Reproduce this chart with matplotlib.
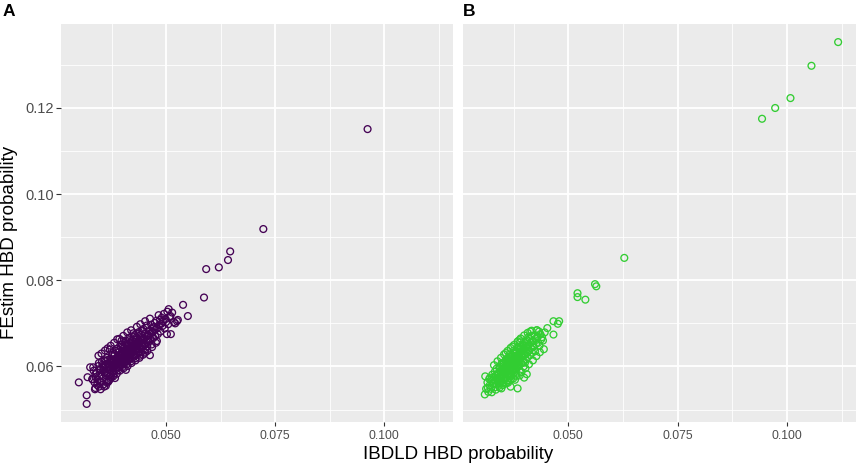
import matplotlib
matplotlib.use('Agg')
import matplotlib.pyplot as plt
from matplotlib.ticker import MultipleLocator, FormatStrFormatter

plt.rcParams.update({'font.family': ['Liberation Sans', 'DejaVu Sans']})

# panel A: IBDLD vs FEstim HBD probability (purple), one line per x bin
ibdld_a = [
    0.0331, 0.0334, 0.0336, 0.0338, 0.0333, 0.0339,
    0.0341, 0.0343, 0.0345, 0.0347, 0.0349, 0.0342, 0.0346, 0.0348,
    0.0350, 0.0352, 0.0353, 0.0355, 0.0356, 0.0358, 0.0351, 0.0354, 0.0357, 0.0359,
    0.0360, 0.0361, 0.0362, 0.0363, 0.0364, 0.0365, 0.0366, 0.0367, 0.0368, 0.0369, 0.0362, 0.0366,
    0.0370, 0.0371, 0.0372, 0.0373, 0.0374, 0.0375, 0.0376, 0.0377, 0.0378, 0.0379, 0.0371, 0.0374, 0.0376, 0.0378,
    0.0380, 0.0381, 0.0382, 0.0383, 0.0384, 0.0385, 0.0386, 0.0387, 0.0388, 0.0389, 0.0380, 0.0382, 0.0384, 0.0386, 0.0388, 0.0385,
    0.0390, 0.0391, 0.0392, 0.0393, 0.0394, 0.0395, 0.0396, 0.0397, 0.0398, 0.0399, 0.0390, 0.0392, 0.0394, 0.0396, 0.0398, 0.0391, 0.0395, 0.0399,
    0.0400, 0.0401, 0.0402, 0.0403, 0.0404, 0.0405, 0.0406, 0.0407, 0.0408, 0.0409, 0.0400, 0.0401, 0.0403, 0.0404, 0.0405, 0.0406, 0.0407, 0.0408, 0.0402, 0.0409,
    0.0410, 0.0411, 0.0412, 0.0413, 0.0414, 0.0415, 0.0416, 0.0417, 0.0418, 0.0419, 0.0410, 0.0411, 0.0412, 0.0413, 0.0414, 0.0415, 0.0416, 0.0417, 0.0418, 0.0419,
    0.0420, 0.0421, 0.0422, 0.0423, 0.0424, 0.0425, 0.0426, 0.0427, 0.0428, 0.0429, 0.0420, 0.0422, 0.0424, 0.0426, 0.0428, 0.0421, 0.0425, 0.0429,
    0.0430, 0.0431, 0.0432, 0.0433, 0.0434, 0.0435, 0.0436, 0.0437, 0.0438, 0.0439, 0.0430, 0.0432, 0.0434, 0.0436, 0.0438, 0.0435,
    0.0440, 0.0441, 0.0442, 0.0443, 0.0444, 0.0445, 0.0446, 0.0447, 0.0448, 0.0449, 0.0441, 0.0443, 0.0446, 0.0448,
    0.0450, 0.0451, 0.0452, 0.0453, 0.0454, 0.0455, 0.0456, 0.0457, 0.0458, 0.0459, 0.0452, 0.0456,
    0.0460, 0.0461, 0.0462, 0.0463, 0.0464, 0.0465, 0.0466, 0.0467, 0.0468, 0.0469,
    0.0470, 0.0471, 0.0473, 0.0474, 0.0475, 0.0476, 0.0478, 0.0479,
    0.0480, 0.0481, 0.0483, 0.0484, 0.0486, 0.0487, 0.0489,
    0.0490, 0.0492, 0.0493, 0.0495, 0.0497, 0.0499,
    0.0500, 0.0502, 0.0503, 0.0505, 0.0506, 0.0508, 0.0510, 0.0511, 0.0514,
    # upper and lower edge of the band
    0.0345, 0.0352, 0.0360, 0.0366, 0.0373, 0.0381, 0.0393, 0.0402, 0.0411, 0.0420, 0.0433, 0.0441,
    0.0452, 0.0463, 0.0371, 0.0398, 0.0425,
    0.0338, 0.0346, 0.0356, 0.0364, 0.0372, 0.0379, 0.0387, 0.0394, 0.0403, 0.0412, 0.0421, 0.0430,
    0.0439, 0.0447, 0.0457, 0.0468, 0.0477, 0.0383, 0.0408,
    # outliers
    0.0518, 0.0521, 0.0525, 0.0527, 0.0539, 0.0550, 0.0587, 0.0592, 0.0621, 0.0642, 0.0647, 0.0723, 0.0962, 0.0388,
    0.0300, 0.0318, 0.0318, 0.0326, 0.0320, 0.0331, 0.0337, 0.0350, 0.0358, 0.0365, 0.0362, 0.0368, 0.0375,
]
festim_a = [
    0.0571, 0.0590, 0.0563, 0.0582, 0.0598, 0.0575,
    0.0586, 0.0569, 0.0601, 0.0578, 0.0592, 0.0557, 0.0608, 0.0565,
    0.0594, 0.0580, 0.0611, 0.0572, 0.0599, 0.0586, 0.0563, 0.0604, 0.0591, 0.0614,
    0.0601, 0.0588, 0.0612, 0.0579, 0.0596, 0.0620, 0.0584, 0.0607, 0.0593, 0.0568, 0.0603, 0.0615,
    0.0606, 0.0594, 0.0618, 0.0583, 0.0611, 0.0600, 0.0627, 0.0589, 0.0609, 0.0597, 0.0576, 0.0615, 0.0604, 0.0631,
    0.0614, 0.0602, 0.0625, 0.0591, 0.0618, 0.0608, 0.0636, 0.0597, 0.0621, 0.0610, 0.0583, 0.0629, 0.0605, 0.0616, 0.0641, 0.0612,
    0.0622, 0.0609, 0.0633, 0.0598, 0.0626, 0.0615, 0.0645, 0.0604, 0.0629, 0.0618, 0.0591, 0.0638, 0.0612, 0.0624, 0.0651, 0.0617, 0.0603, 0.0635,
    0.0630, 0.0617, 0.0641, 0.0606, 0.0634, 0.0622, 0.0654, 0.0612, 0.0637, 0.0626, 0.0598, 0.0646, 0.0620, 0.0644, 0.0633, 0.0609, 0.0660, 0.0626, 0.0615, 0.0649,
    0.0637, 0.0624, 0.0648, 0.0613, 0.0641, 0.0629, 0.0661, 0.0619, 0.0644, 0.0633, 0.0605, 0.0653, 0.0627, 0.0651, 0.0640, 0.0616, 0.0667, 0.0632, 0.0622, 0.0656,
    0.0644, 0.0631, 0.0655, 0.0620, 0.0648, 0.0636, 0.0668, 0.0626, 0.0651, 0.0640, 0.0612, 0.0660, 0.0634, 0.0646, 0.0673, 0.0639, 0.0625, 0.0657,
    0.0651, 0.0638, 0.0662, 0.0627, 0.0655, 0.0643, 0.0675, 0.0633, 0.0658, 0.0647, 0.0619, 0.0667, 0.0641, 0.0653, 0.0680, 0.0649,
    0.0657, 0.0644, 0.0668, 0.0633, 0.0661, 0.0649, 0.0682, 0.0639, 0.0664, 0.0653, 0.0625, 0.0674, 0.0647, 0.0687,
    0.0665, 0.0652, 0.0676, 0.0640, 0.0669, 0.0657, 0.0690, 0.0647, 0.0672, 0.0661, 0.0632, 0.0695,
    0.0672, 0.0658, 0.0683, 0.0626, 0.0676, 0.0663, 0.0697, 0.0651, 0.0679, 0.0689,
    0.0680, 0.0666, 0.0692, 0.0701, 0.0671, 0.0686, 0.0706, 0.0659,
    0.0689, 0.0675, 0.0719, 0.0696, 0.0708, 0.0681, 0.0699,
    0.0713, 0.0694, 0.0704, 0.0722, 0.0688, 0.0710,
    0.0703, 0.0675, 0.0727, 0.0698, 0.0733, 0.0715, 0.0717, 0.0675, 0.0725,
    0.0625, 0.0630, 0.0637, 0.0642, 0.0648, 0.0655, 0.0664, 0.0671, 0.0679, 0.0684, 0.0692, 0.0698,
    0.0705, 0.0711, 0.0639, 0.0660, 0.0677,
    0.0550, 0.0553, 0.0558, 0.0566, 0.0571, 0.0577, 0.0583, 0.0590, 0.0596, 0.0601, 0.0608, 0.0614,
    0.0620, 0.0627, 0.0636, 0.0645, 0.0655, 0.0573, 0.0592,
    0.0703, 0.0700, 0.0705, 0.0708, 0.0743, 0.0717, 0.0760, 0.0826, 0.0830, 0.0847, 0.0867, 0.0919, 0.1151, 0.0663,
    0.0563, 0.0533, 0.0513, 0.0598, 0.0575, 0.0570, 0.0547, 0.0547, 0.0553, 0.0562, 0.0555, 0.0565, 0.0575,
]

# panel B: IBDLD vs FEstim HBD probability (green), one line per x bin
ibdld_b = [
    0.0312, 0.0315, 0.0317, 0.0319,
    0.0320, 0.0321, 0.0323, 0.0324, 0.0326, 0.0327, 0.0329,
    0.0330, 0.0331, 0.0332, 0.0333, 0.0334, 0.0335, 0.0336, 0.0337, 0.0338, 0.0339,
    0.0340, 0.0341, 0.0342, 0.0343, 0.0344, 0.0345, 0.0346, 0.0347, 0.0348, 0.0349, 0.0341, 0.0344, 0.0346, 0.0348,
    0.0350, 0.0351, 0.0352, 0.0353, 0.0354, 0.0355, 0.0356, 0.0357, 0.0358, 0.0359, 0.0350, 0.0352, 0.0354, 0.0356, 0.0358, 0.0351, 0.0355, 0.0359,
    0.0360, 0.0361, 0.0362, 0.0363, 0.0364, 0.0365, 0.0366, 0.0367, 0.0368, 0.0369,
    0.0369, 0.0368, 0.0367, 0.0366, 0.0365, 0.0364, 0.0363, 0.0362, 0.0361, 0.0360, 0.0362, 0.0367,
    0.0370, 0.0371, 0.0372, 0.0373, 0.0374, 0.0375, 0.0376, 0.0377, 0.0378, 0.0379,
    0.0379, 0.0378, 0.0377, 0.0376, 0.0375, 0.0374, 0.0373, 0.0372, 0.0371, 0.0370, 0.0373, 0.0376,
    0.0380, 0.0381, 0.0382, 0.0383, 0.0384, 0.0385, 0.0386, 0.0387, 0.0388, 0.0389,
    0.0389, 0.0388, 0.0387, 0.0386, 0.0385, 0.0384, 0.0383, 0.0382, 0.0381, 0.0380,
    0.0390, 0.0391, 0.0392, 0.0393, 0.0394, 0.0395, 0.0396, 0.0397, 0.0398, 0.0399,
    0.0398, 0.0396, 0.0394, 0.0392, 0.0390, 0.0397, 0.0393, 0.0391,
    0.0400, 0.0401, 0.0402, 0.0403, 0.0404, 0.0405, 0.0406, 0.0407, 0.0408, 0.0409, 0.0401, 0.0404, 0.0406, 0.0408,
    0.0410, 0.0411, 0.0412, 0.0413, 0.0414, 0.0415, 0.0416, 0.0417, 0.0418, 0.0419,
    0.0420, 0.0421, 0.0423, 0.0424, 0.0425, 0.0426, 0.0428, 0.0429,
    0.0430, 0.0431, 0.0433, 0.0434, 0.0436, 0.0438,
    0.0440, 0.0442, 0.0444, 0.0446,
    # upper and lower edge of the band
    0.0330, 0.0338, 0.0346, 0.0353, 0.0361, 0.0368, 0.0376, 0.0384, 0.0391, 0.0399, 0.0407, 0.0416,
    0.0357, 0.0372, 0.0388,
    0.0325, 0.0334, 0.0343, 0.0351, 0.0358, 0.0366, 0.0374, 0.0381, 0.0393, 0.0402, 0.0410, 0.0419,
    0.0427, 0.0435, 0.0347, 0.0378,
    # outliers
    0.0452, 0.0466, 0.0466, 0.0476, 0.0479, 0.0521, 0.0521, 0.0539, 0.0561, 0.0564, 0.0628,
    0.0943, 0.0973, 0.1008, 0.1056, 0.1117,
    0.0309, 0.0310, 0.0316, 0.0368, 0.0384, 0.0399, 0.0405, 0.0362, 0.0389, 0.0413, 0.0428,
]
festim_b = [
    0.0548, 0.0563, 0.0541, 0.0571,
    0.0556, 0.0574, 0.0548, 0.0566, 0.0581, 0.0559, 0.0570,
    0.0575, 0.0561, 0.0588, 0.0552, 0.0579, 0.0567, 0.0595, 0.0558, 0.0583, 0.0572,
    0.0583, 0.0570, 0.0597, 0.0561, 0.0588, 0.0576, 0.0604, 0.0566, 0.0592, 0.0580, 0.0555, 0.0600, 0.0573, 0.0608,
    0.0592, 0.0579, 0.0606, 0.0569, 0.0597, 0.0585, 0.0613, 0.0575, 0.0601, 0.0589, 0.0562, 0.0609, 0.0583, 0.0595, 0.0617, 0.0587, 0.0571, 0.0603,
    0.0602, 0.0589, 0.0616, 0.0578, 0.0607, 0.0595, 0.0623, 0.0584, 0.0611, 0.0598,
    0.0571, 0.0619, 0.0593, 0.0605, 0.0627, 0.0580, 0.0600, 0.0613, 0.0587, 0.0568, 0.0609, 0.0596,
    0.0612, 0.0599, 0.0626, 0.0588, 0.0617, 0.0605, 0.0633, 0.0594, 0.0621, 0.0608,
    0.0581, 0.0629, 0.0603, 0.0615, 0.0637, 0.0590, 0.0610, 0.0623, 0.0597, 0.0578, 0.0619, 0.0606,
    0.0621, 0.0608, 0.0635, 0.0597, 0.0626, 0.0614, 0.0642, 0.0603, 0.0630, 0.0617,
    0.0590, 0.0638, 0.0612, 0.0624, 0.0646, 0.0599, 0.0619, 0.0632, 0.0606, 0.0587,
    0.0631, 0.0618, 0.0645, 0.0607, 0.0636, 0.0624, 0.0652, 0.0613, 0.0640, 0.0627,
    0.0600, 0.0648, 0.0622, 0.0634, 0.0656, 0.0609, 0.0629, 0.0642,
    0.0640, 0.0627, 0.0654, 0.0616, 0.0645, 0.0633, 0.0661, 0.0622, 0.0649, 0.0636, 0.0609, 0.0657, 0.0631, 0.0667,
    0.0650, 0.0637, 0.0664, 0.0626, 0.0655, 0.0643, 0.0671, 0.0632, 0.0659, 0.0646,
    0.0659, 0.0646, 0.0673, 0.0635, 0.0664, 0.0652, 0.0684, 0.0668,
    0.0669, 0.0655, 0.0681, 0.0648, 0.0675, 0.0663,
    0.0668, 0.0660, 0.0640, 0.0679,
    0.0603, 0.0612, 0.0620, 0.0628, 0.0636, 0.0643, 0.0650, 0.0658, 0.0665, 0.0672, 0.0678, 0.0683,
    0.0631, 0.0646, 0.0661,
    0.0540, 0.0546, 0.0551, 0.0557, 0.0561, 0.0567, 0.0572, 0.0578, 0.0587, 0.0596, 0.0605, 0.0614,
    0.0624, 0.0633, 0.0549, 0.0569,
    0.0689, 0.0674, 0.0705, 0.0699, 0.0705, 0.0770, 0.0761, 0.0755, 0.0791, 0.0786, 0.0852,
    0.1175, 0.1200, 0.1223, 0.1298, 0.1353,
    0.0535, 0.0577, 0.0550, 0.0553, 0.0549, 0.0574, 0.0582, 0.0562, 0.0579, 0.0681, 0.0684,
]

colors = ['#440154', '#32CD32']
labels = ['A', 'B']

# shared scales with ggplot-style 5% expansion
all_x = ibdld_a + ibdld_b
all_y = festim_a + festim_b
dx = (max(all_x) - min(all_x)) * 0.05
dy = (max(all_y) - min(all_y)) * 0.05
xlim = (min(all_x) - dx, max(all_x) + dx)
ylim = (min(all_y) - dy, max(all_y) + dy)

fig = plt.figure(figsize=(8.58, 4.65), dpi=100)
W, H = 858, 465
boxes = [(61, 392), (463, 393)]

for i, (xs, ys) in enumerate([(ibdld_a, festim_a), (ibdld_b, festim_b)]):
    left, width = boxes[i]
    ax = fig.add_axes([left / W, 43 / H, width / W, 398 / H])
    ax.set_facecolor('#EBEBEB')
    for s in ax.spines.values():
        s.set_visible(False)
    ax.scatter(xs, ys, s=24, facecolors='none', edgecolors=colors[i], linewidths=0.95, zorder=3)
    ax.set_xlim(*xlim)
    ax.set_ylim(*ylim)
    ax.xaxis.set_major_locator(MultipleLocator(0.025))
    ax.xaxis.set_minor_locator(MultipleLocator(0.0125))
    ax.yaxis.set_major_locator(MultipleLocator(0.02))
    ax.yaxis.set_minor_locator(MultipleLocator(0.01))
    ax.grid(which='major', color='white', linewidth=1.3, zorder=1)
    ax.grid(which='minor', color='white', linewidth=0.6, zorder=1)
    ax.set_axisbelow(True)
    ax.xaxis.set_major_formatter(FormatStrFormatter('%.3f'))
    ax.yaxis.set_major_formatter(FormatStrFormatter('%.2f'))
    ax.tick_params(which='minor', length=0)
    ax.tick_params(axis='x', which='major', length=3.2, width=0.8, color='#333333',
                   labelsize=8.8, labelcolor='#4D4D4D', pad=2.5)
    if i == 0:
        ax.tick_params(axis='y', which='major', length=3.5, width=0.8, color='#333333',
                       labelsize=10.5, labelcolor='#4D4D4D', pad=1.5)
    else:
        ax.tick_params(axis='y', which='major', length=0, labelleft=False)
    fig.text((left - 58) / W if i == 0 else left / W, 1 - 4 / H, labels[i],
             fontsize=12.5, fontweight='bold', ha='left', va='top')

fig.text(458.5 / W, 6 / H, 'IBDLD HBD probability', fontsize=13.5, ha='center', va='baseline')
fig.text(9.5 / W, 223 / H, 'FEstim HBD probability', fontsize=13.5, rotation=90,
         ha='center', va='center')

plt.savefig('out.png', dpi=100)
